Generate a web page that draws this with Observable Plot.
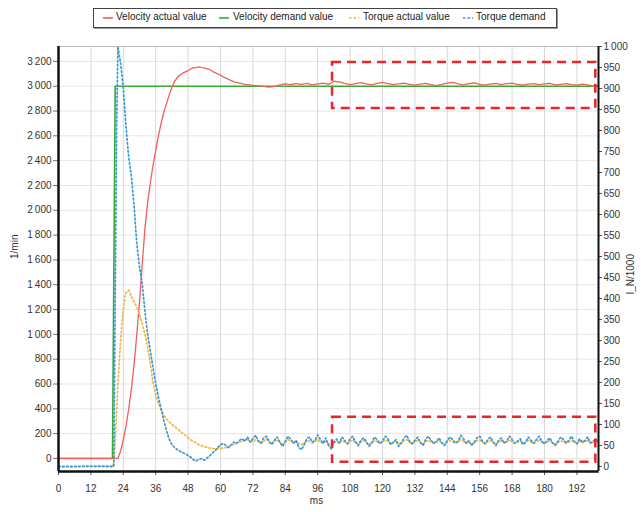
<!DOCTYPE html>
<html>
<head>
<meta charset="utf-8">
<script src="https://cdn.jsdelivr.net/npm/d3@7"></script>
<script src="https://cdn.jsdelivr.net/npm/@observablehq/plot@0.6"></script>
<style>
  body { margin: 0; background: #fff; font-family: "Liberation Sans", Arial, sans-serif; }
  #legend { position: relative; width: 641px; height: 38px; }
  #legend .box { position: absolute; left: 93px; top: 8px; width: 462px; height: 18px; border: 1px solid #444; box-shadow: 1px 1px 0 #999; }
  #legend svg.sw { position: absolute; top: 5px; width: 10px; height: 8px; }
  #legend .lb { position: absolute; top: 2px; font-size: 10px; color: #222; white-space: nowrap; }
  #chart { width: 641px; height: 474px; }
</style>
</head>
<body>
<div id="legend"><div class="box" id="lbox"></div></div>
<div id="chart"></div>
<script>
// ---------- data ----------
const seriesNames = ["Velocity actual value", "Velocity demand value", "Torque actual value", "Torque demand"];
const seriesColors = ["#f0605c", "#3aaa35", "#f5b53f", "#3a98d4"];

// Velocity demand (1/min)
const velDemandT = [0, 20.0, 21.0, 200];
const velDemandV = [0, 0, 3000, 3000];

// Velocity actual (1/min)
const velActualT = [0, 22, 23, 24, 25, 26, 27, 28, 29, 30, 31, 32, 33, 34, 35, 36, 37, 38, 39, 40,
  41, 42, 43, 44, 45, 46, 47, 48, 49, 50, 51, 52, 53, 54, 55, 56, 57, 58, 59, 60,
  61, 62, 63, 64, 65, 66, 67, 68, 69, 70, 72, 74, 76, 78, 80, 82, 84, 86, 88, 90,
  92, 94, 96, 98, 100, 102, 104, 106, 108, 110, 112, 114, 116, 118, 120, 122, 124, 126, 128, 130,
  132, 134, 136, 138, 140, 142, 144, 146, 148, 150, 152, 154, 156, 158, 160, 162, 164, 166, 168, 170,
  172, 174, 176, 178, 180, 182, 184, 186, 188, 190, 192, 194, 196, 198, 200];
const velActualV = [0, 0, 60, 150, 260, 400, 560, 760, 1000, 1260, 1560, 1850, 2060, 2220, 2360, 2480, 2600, 2700, 2790, 2860,
  2930, 2990, 3040, 3070, 3090, 3105, 3115, 3125, 3140, 3150, 3150, 3155, 3150, 3148, 3140, 3135, 3120, 3110, 3100, 3090,
  3075, 3065, 3055, 3045, 3035, 3030, 3025, 3020, 3015, 3012, 3006, 3002, 2998, 2992, 2998, 3010, 3018, 3012, 3020, 3015,
  3022, 3010, 3018, 3025, 3015, 3040, 3035, 3022, 3012, 3020, 3028, 3018, 3010, 3022, 3030, 3020, 3012, 3018, 3025, 3015,
  3008, 3016, 3022, 3012, 3005, 3015, 3024, 3030, 3018, 3010, 3020, 3026, 3015, 3008, 3018, 3022, 3012, 3020, 3025, 3014,
  3008, 3016, 3020, 3012, 3018, 3022, 3010, 3015, 3020, 3012, 3008, 3016, 3010, 3000, 3005];

// Torque actual (I_N/1000)
const torqueActualT = [0, 5, 10, 15, 20, 20.5, 21, 22, 23, 23.7, 24.8, 26, 27, 28, 29, 30, 31, 32, 33, 34,
  35, 36, 37, 38, 39, 40, 41, 42, 43, 44, 45, 46, 47, 48, 49, 50, 52, 54, 56, 58,
  60, 62, 64, 66, 68, 70];
const torqueActualV = [0, 1, -1, 1, 0, 10, 60, 198, 300, 355, 412, 420, 405, 392, 380, 362, 340, 315, 285, 245,
  200, 170, 150, 135, 122, 113, 106, 100, 95, 90, 84, 79, 74, 68, 63, 59, 52, 47, 44, 42,
  43, 45, 50, 56, 60, 64];
const torqueActualTail = [62, 58, 64, 60, 55, 60, 66, 58, 54, 60,
  62, 57, 52, 58, 64, 60, 56, 60, 54, 52,
  56, 62, 60, 56, 60, 64, 58, 55, 60, 54,
  50, 56, 60, 55, 62, 58, 54, 60, 63, 57,
  54, 58, 62, 57, 52, 56, 62, 59, 55, 58,
  63, 60, 54, 57, 60, 53, 56, 61, 64, 58,
  55, 58, 62, 57, 53, 59, 63, 58, 55, 58,
  62, 56, 53, 58, 62, 59, 55, 58, 64, 60,
  55, 58, 53, 56, 61, 63, 58, 55, 59, 62,
  57, 53, 58, 61, 56, 58, 63, 59, 55, 58,
  61, 55, 57, 62, 58, 55, 59, 63, 58, 55,
  58, 61, 56, 53, 57, 62, 59, 55, 58, 62,
  58, 55, 60, 57, 58, 62, 56, 57, 60, 56]; // t = 71 … 200

// Torque demand (I_N/1000)
const torqueDemandT = [0, 5, 10, 15, 20, 20.5, 21, 21.5, 22, 23, 24, 25, 26, 27, 28, 29, 30, 31, 32, 33,
  34, 35, 36, 37, 38, 39, 40, 41, 42, 43, 44, 45, 46, 47, 48, 49, 50, 51, 52, 53,
  54, 55, 56, 57, 58, 59, 60, 61, 62, 63, 64, 65, 66, 67, 68, 69, 70];
const torqueDemandV = [0, -1, 1, 0, 0, 0, 400, 800, 1000, 960, 900, 810, 736, 690, 620, 530, 475, 436, 370, 315,
  276, 235, 198, 165, 138, 110, 85, 65, 52, 45, 40, 36, 33, 30, 26, 22, 16, 13, 17, 19,
  15, 20, 25, 32, 38, 45, 52, 55, 50, 45, 52, 58, 55, 62, 66, 60, 70];
const torqueDemandTail = [58, 66, 74, 62, 55, 68, 72, 60, 52, 63,
  70, 58, 48, 60, 72, 65, 55, 62, 45, 40,
  52, 66, 70, 58, 62, 75, 64, 55, 68, 50,
  42, 58, 65, 56, 70, 62, 54, 66, 72, 58,
  50, 62, 68, 60, 48, 56, 70, 64, 55, 60,
  72, 66, 52, 58, 64, 48, 56, 68, 74, 60,
  54, 62, 70, 58, 50, 64, 72, 62, 55, 60,
  68, 56, 50, 62, 70, 64, 56, 60, 74, 66,
  55, 62, 50, 58, 68, 72, 60, 54, 64, 70,
  58, 50, 62, 68, 56, 60, 72, 64, 55, 60,
  66, 52, 58, 70, 62, 55, 64, 72, 60, 54,
  62, 68, 56, 50, 60, 70, 64, 56, 62, 72,
  60, 54, 66, 58, 62, 70, 56, 60, 66, 58]; // t = 71 … 200
const tailT = d3.range(71, 201);

// Axis ticks
const xTicks = d3.range(0, 193, 12);
const xMinor = d3.range(0, 201, 4).filter(t => t % 12 !== 0);
const leftTicks = d3.range(0, 3201, 200);
const rightTicks = d3.range(0, 1001, 50);

// Highlight boxes: [t1, t2, low, high]
const boxVelocity = [101.5, 199, 2820, 3192];   // 1/min
const boxTorque = [101.5, 199, 10, 117];        // I_N/1000

// ---------- scales ----------
const leftDomain = [-105, 3320];
const toLeft = t => -64.5 + 3.3844 * t;          // right axis value -> left axis value
const fromLeft = v => (v + 64.5) / 3.3844;
const fmt = d => d3.format(",")(d).replace(/,/g, "\u2009");

const pts = (T, V) => T.map((t, i) => ({t, v: V[i]}));
const velDemand = pts(velDemandT, velDemandV);
const velActual = pts(velActualT, velActualV);
const torqueActual = pts(torqueActualT.concat(tailT), torqueActualV.concat(torqueActualTail));
const torqueDemand = pts(torqueDemandT.concat(tailT), torqueDemandV.concat(torqueDemandTail));

// ---------- legend ----------
const swX = [102, 218, 348, 462];
const lbX = [115, 232, 362, 475];
const box = document.getElementById("lbox");
seriesNames.forEach((n, i) => {
  const dash = i < 2 ? "" : ' stroke-dasharray="2.5,2"';
  box.insertAdjacentHTML("beforeend",
    `<svg class="sw" style="left:${swX[i] - 93}px" viewBox="0 0 10 8"><line x1="0" y1="4" x2="10" y2="4" stroke="${seriesColors[i]}" stroke-width="1.6"${dash}/></svg>`);
  const l = document.createElement("div");
  l.className = "lb";
  l.style.left = (lbX[i] - 93) + "px";
  l.textContent = n;
  box.appendChild(l);
});

// ---------- chart ----------
const chart = Plot.plot({
  width: 641,
  height: 474,
  marginTop: 8,
  marginBottom: 41,
  marginLeft: 58,
  marginRight: 43,
  style: {fontFamily: "Liberation Sans, Arial, sans-serif", fontSize: "10px", color: "#333", background: "white"},
  x: {domain: [0, 200], label: null},
  y: {domain: leftDomain, label: null},
  marks: [
    Plot.gridY(leftTicks, {stroke: "#e6e6e6", strokeOpacity: 1}),
    Plot.gridX(xTicks, {stroke: "#d8d8d8", strokeOpacity: 1}),
    Plot.axisX(xTicks, {anchor: "bottom", tickSize: 4, tickPadding: 9, label: null, stroke: "#555", fill: "#333"}),
    Plot.axisX(xMinor, {anchor: "bottom", tickSize: 2, tickFormat: () => "", label: null, stroke: "#777"}),
    Plot.axisY(leftTicks, {anchor: "left", tickSize: 5, tickPadding: 2, tickFormat: fmt, label: null, stroke: "#777", fill: "#333"}),
    Plot.axisY(rightTicks.map(toLeft), {anchor: "right", tickSize: 3, tickPadding: 2, tickFormat: d => fmt(Math.round(fromLeft(d))), label: null, stroke: "#555", fill: "#333"}),
    Plot.text(["1/min"], {frameAnchor: "left", dx: -44, rotate: -90, fill: "#333", fontSize: 10}),
    Plot.text(["I_N/1000"], {frameAnchor: "right", dx: 32, dy: -5, rotate: -90, fill: "#333", fontSize: 10}),
    Plot.text(["ms"], {frameAnchor: "bottom", dy: 32, dx: -12, fill: "#333", fontSize: 10}),
    // series
    Plot.line(velDemand, {x: "t", y: "v", stroke: seriesColors[1], strokeWidth: 1.6}),
    Plot.line(velActual, {x: "t", y: "v", stroke: seriesColors[0], strokeWidth: 1.3}),
    Plot.line(torqueActual, {x: "t", y: d => toLeft(d.v), stroke: seriesColors[2], strokeWidth: 1.7, strokeDasharray: "1.6,2.4"}),
    Plot.line(torqueDemand, {x: "t", y: d => toLeft(d.v), stroke: seriesColors[3], strokeWidth: 1.7, strokeDasharray: "1.6,2.4"}),
    // highlight boxes
    Plot.rect([boxVelocity], {x1: d => d[0], x2: d => d[1], y1: d => d[2], y2: d => d[3], fill: "none", stroke: "#e8262a", strokeWidth: 2.5, strokeDasharray: "9,6"}),
    Plot.rect([boxTorque], {x1: d => d[0], x2: d => d[1], y1: d => toLeft(d[2]), y2: d => toLeft(d[3]), fill: "none", stroke: "#e8262a", strokeWidth: 2.5, strokeDasharray: "9,6"}),
    // frame
    Plot.ruleY([leftDomain[1]], {stroke: "#bbb", strokeWidth: 1}),
    Plot.ruleX([200], {stroke: "#111", strokeWidth: 2}),
    Plot.ruleX([0], {stroke: "#111", strokeWidth: 2.5}),
    Plot.ruleY([leftDomain[0]], {stroke: "#111", strokeWidth: 2.5})
  ]
});
document.getElementById("chart").appendChild(chart);
</script>
</body>
</html>
